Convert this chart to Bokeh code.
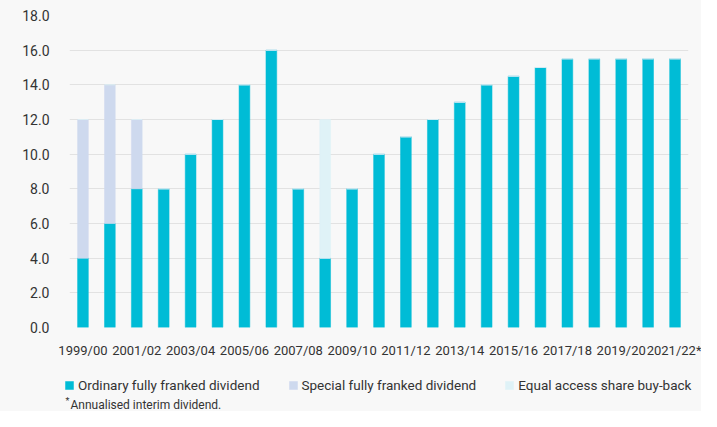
from bokeh.plotting import figure
from bokeh.layouts import column
from bokeh.models import (ColumnDataSource, Range1d, Legend, LegendItem, Label,
                          FixedTicker, NumeralTickFormatter)
from bokeh.embed import file_html
from bokeh.resources import INLINE

years = ["1999/00", "2000/01", "2001/02", "2002/03", "2003/04", "2004/05", "2005/06",
         "2006/07", "2007/08", "2008/09", "2009/10", "2010/11", "2011/12", "2012/13",
         "2013/14", "2014/15", "2015/16", "2016/17", "2017/18", "2018/19", "2019/20",
         "2020/21", "2021/22*"]
ordinary = [4, 6, 8, 8, 10, 12, 14, 16, 8, 4, 8, 10, 11, 12, 13, 14, 14.5, 15, 15.5,
            15.5, 15.5, 15.5, 15.5]
special = [8, 8, 4, 0, 0, 0, 0, 0, 0, 0, 0, 0, 0, 0, 0, 0, 0, 0, 0, 0, 0, 0, 0]
buyback = [0, 0, 0, 0, 0, 0, 0, 0, 0, 8, 0, 0, 0, 0, 0, 0, 0, 0, 0, 0, 0, 0, 0]
series_names = ["Ordinary fully franked dividend", "Special fully franked dividend",
                "Equal access share buy-back"]
y_ticks = [0, 2, 4, 6, 8, 10, 12, 14, 16, 18]
footnote_mark = "*"
footnote = "Annualised interim dividend."

colors = ["#00BCD6", "#CED9EE", "#DFF2F7"]
bg = "#F8F8F8"
font = "Roboto"
txt = "#333333"
stack = ["ordinary", "special", "buyback"]

idx = list(range(len(years)))
src = ColumnDataSource(dict(x=idx, ordinary=ordinary, special=special, buyback=buyback))

# ---- main chart ----
p = figure(x_range=Range1d(-0.5, len(years) - 0.5), y_range=Range1d(0, 18),
           width=701, height=360, output_backend="svg", toolbar_location=None,
           min_border_left=69, min_border_right=13, min_border_top=15, min_border_bottom=28)
p.background_fill_color = bg
p.border_fill_color = bg
p.outline_line_color = None

p.vbar_stack(stack, x="x", width=0.4, source=src,
             fill_color=colors, line_color=colors, line_width=0.5)

p.xgrid.grid_line_color = None
p.ygrid.grid_line_color = "#E2E2E2"
p.ygrid.grid_line_width = 1
p.yaxis.ticker = FixedTicker(ticks=y_ticks)
p.yaxis.formatter = NumeralTickFormatter(format="0.0")
even = [i for i in idx if i % 2 == 0]
p.xaxis.ticker = FixedTicker(ticks=even, minor_ticks=[])
p.xaxis.major_label_overrides = {i: years[i] for i in even}
for ax in (p.xaxis[0], p.yaxis[0]):
    ax.axis_line_color = None
    ax.major_tick_line_color = None
    ax.minor_tick_line_color = None
    ax.major_label_text_font = font
    ax.major_label_text_color = txt
p.yaxis.major_label_text_font_size = "14px"
p.xaxis.major_label_text_font_size = "13px"
p.yaxis.major_label_standoff = 14
p.xaxis.major_label_standoff = 9

# ---- legend / footnote strip (series keys drawn out of view, legend shows them) ----
q = figure(x_range=Range1d(-0.5, len(years) - 0.5), y_range=Range1d(1000, 1001),
           width=701, height=51, output_backend="svg", toolbar_location=None,
           x_axis_type=None, y_axis_type=None, min_border=0)
try:
    q.frame_align = False
except AttributeError:
    pass
q.background_fill_color = bg
q.border_fill_color = bg
q.outline_line_color = None
q.grid.grid_line_color = None
keys = q.vbar_stack(stack, x="x", width=0.4, source=src,
                    fill_color=colors, line_color=colors, line_width=0.5)

legend = Legend(items=[LegendItem(label=n, renderers=[r]) for n, r in zip(series_names, keys)],
                orientation="horizontal", location=(64, 18),
                glyph_width=10, glyph_height=10, label_height=16, label_standoff=4,
                spacing=28, padding=0, margin=0, border_line_color=None,
                background_fill_alpha=0,
                label_text_font=font, label_text_font_size="13.5px", label_text_color=txt)
q.add_layout(legend, "center")

q.add_layout(Label(x=65, y=11, x_units="screen", y_units="screen", text=footnote_mark,
                   text_font=font, text_font_size="9px", text_color=txt,
                   text_baseline="middle"))
q.add_layout(Label(x=70, y=7, x_units="screen", y_units="screen", text=footnote,
                   text_font=font, text_font_size="12px", text_color=txt,
                   text_baseline="middle"))

layout = column(p, q, spacing=0, styles={"background-color": bg})
open("out.html", "w").write(file_html(layout, INLINE))
